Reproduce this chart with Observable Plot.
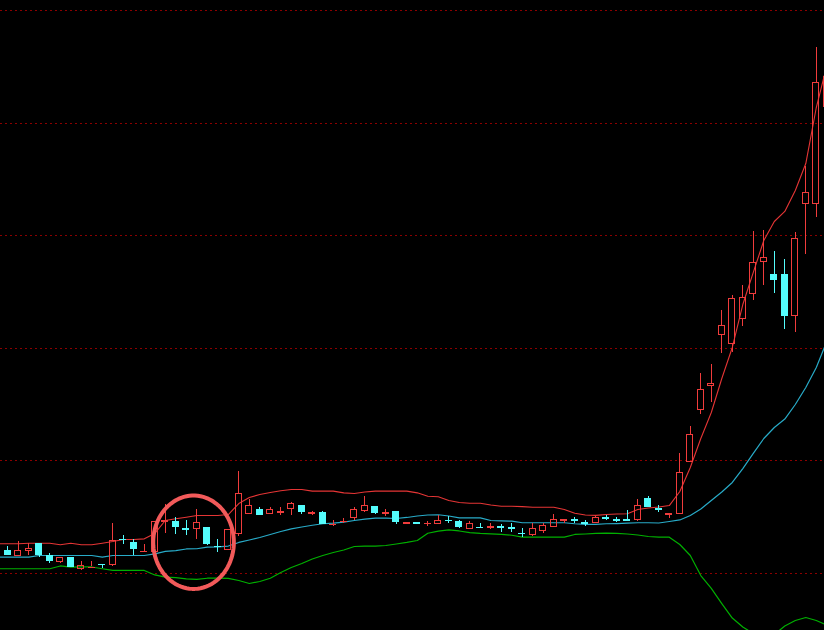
<!DOCTYPE html>
<html><head><meta charset="utf-8">
<script src="https://cdn.jsdelivr.net/npm/d3@7"></script>
<script src="https://cdn.jsdelivr.net/npm/@observablehq/plot@0.6"></script>
<style>html,body{margin:0;padding:0;background:#000;overflow:hidden}#chart svg{display:block}</style>
</head><body><div id="chart"></div>
<script>
// Daily candles (index 0 = first full candle on the left)
const candleOpen  = [4.204,4.154,4.204,4.260,4.154,4.098,4.136,4.036,4.051,4.080,4.077,4.302,4.269,4.193,4.187,4.462,4.456,4.397,4.397,4.403,4.240,4.211,4.347,4.531,4.566,4.531,4.544,4.572,4.604,4.535,4.540,4.434,4.460,4.495,4.554,4.589,4.538,4.545,4.449,4.452,4.441,4.442,4.471,4.456,4.397,4.412,4.410,4.413,4.404,4.358,4.344,4.382,4.412,4.475,4.478,4.449,4.447,4.497,4.478,4.478,4.477,4.658,4.577,4.528,4.531,4.989,5.449,5.665,6.116,6.036,6.264,6.480,6.769,6.656,6.656,6.287,7.280,7.280,8.145];
const candleHigh  = [4.243,4.284,4.264,4.260,4.175,4.145,4.136,4.109,4.109,4.080,4.447,4.340,4.302,4.258,4.460,4.613,4.495,4.471,4.566,4.403,4.300,4.388,4.909,4.655,4.589,4.589,4.589,4.634,4.604,4.554,4.554,4.471,4.492,4.589,4.684,4.589,4.566,4.554,4.451,4.452,4.462,4.516,4.507,4.471,4.462,4.447,4.442,4.436,4.442,4.400,4.442,4.442,4.522,4.478,4.500,4.471,4.507,4.516,4.500,4.560,4.655,4.684,4.604,4.531,5.069,5.307,5.775,5.858,6.338,6.471,6.560,7.044,7.049,6.860,6.789,7.031,7.618,8.673,8.560];
const candleLow   = [4.160,4.151,4.160,4.145,4.086,4.086,4.056,4.031,4.049,4.042,4.065,4.258,4.160,4.191,4.178,4.353,4.347,4.338,4.300,4.249,4.189,4.209,4.329,4.529,4.516,4.529,4.516,4.516,4.524,4.516,4.440,4.420,4.442,4.471,4.545,4.522,4.507,4.436,4.433,4.433,4.420,4.440,4.442,4.397,4.396,4.409,4.388,4.367,4.367,4.323,4.329,4.358,4.410,4.447,4.447,4.420,4.444,4.471,4.456,4.475,4.465,4.587,4.545,4.489,4.529,4.987,5.413,5.523,5.958,5.967,6.196,6.427,6.556,6.489,6.167,6.140,6.836,7.167,8.116];
const candleClose = [4.166,4.204,4.216,4.166,4.113,4.136,4.062,4.071,4.060,4.076,4.287,4.298,4.220,4.198,4.456,4.471,4.412,4.393,4.447,4.264,4.236,4.388,4.708,4.604,4.520,4.560,4.548,4.620,4.545,4.538,4.442,4.437,4.463,4.560,4.604,4.540,4.541,4.456,4.452,4.449,4.444,4.465,4.468,4.412,4.442,4.409,4.413,4.410,4.401,4.355,4.397,4.418,4.477,4.478,4.475,4.446,4.492,4.494,4.475,4.475,4.596,4.589,4.574,4.531,4.892,5.227,5.627,5.686,6.198,6.442,6.451,6.762,6.803,6.611,6.287,6.975,7.384,8.362,8.412];

// Bollinger-style bands, one value per candle, starting one candle left of candle 0
const bandStart = -1;
const bandUpper = [4.264,4.264,4.264,4.269,4.269,4.269,4.255,4.269,4.255,4.255,4.269,4.284,4.302,4.302,4.308,4.356,4.471,4.486,4.500,4.516,4.516,4.516,4.524,4.622,4.676,4.702,4.720,4.735,4.747,4.747,4.732,4.732,4.732,4.717,4.711,4.724,4.732,4.732,4.732,4.732,4.717,4.687,4.682,4.649,4.631,4.625,4.625,4.609,4.598,4.598,4.594,4.589,4.589,4.589,4.569,4.535,4.520,4.517,4.524,4.529,4.531,4.569,4.582,4.591,4.604,4.729,4.942,5.200,5.431,5.733,6.009,6.391,6.676,6.960,7.129,7.218,7.404,7.644,8.142,8.516];
const bandMid   = [4.145,4.145,4.145,4.145,4.160,4.160,4.160,4.160,4.160,4.160,4.145,4.160,4.160,4.160,4.160,4.175,4.196,4.204,4.218,4.220,4.234,4.236,4.244,4.276,4.298,4.320,4.347,4.373,4.396,4.413,4.429,4.442,4.447,4.456,4.471,4.484,4.492,4.492,4.489,4.498,4.511,4.520,4.522,4.511,4.495,4.495,4.495,4.471,4.468,4.465,4.451,4.451,4.451,4.451,4.451,4.442,4.436,4.436,4.442,4.444,4.447,4.451,4.451,4.449,4.462,4.476,4.516,4.573,4.649,4.724,4.809,4.933,5.067,5.200,5.298,5.373,5.502,5.653,5.831,6.062];
const bandLower = [4.042,4.042,4.042,4.042,4.042,4.042,4.067,4.056,4.058,4.058,4.042,4.027,4.027,4.027,4.027,3.987,3.967,3.964,3.953,3.947,3.958,3.958,3.956,3.938,3.911,3.929,3.958,4.009,4.053,4.089,4.129,4.160,4.187,4.209,4.240,4.243,4.244,4.249,4.262,4.276,4.293,4.358,4.376,4.387,4.378,4.364,4.356,4.353,4.347,4.340,4.324,4.323,4.323,4.323,4.323,4.347,4.351,4.356,4.358,4.356,4.351,4.342,4.329,4.324,4.323,4.258,4.160,3.982,3.867,3.733,3.604,3.524,3.467,3.440,3.458,3.533,3.582,3.609,3.582,3.542];

// horizontal price grid levels
const gridPrices = [4, 5, 6, 7, 8, 9];
// hand-drawn highlight around candles 14-21 (center + radii in data units)
const markCenterIndex = 17.69, markCenterPrice = 4.278, markRadiusIndex = 3.84, markRadiusPrice = 0.415;

const RED = "#f03c3c", CYAN = "#54fcfc";
const candles = candleOpen.map((o, i) => ({i, open: o, high: candleHigh[i], low: candleLow[i], close: candleClose[i]}));
const bands = bandUpper.map((u, k) => ({i: k + bandStart, upper: u, mid: bandMid[k], lower: bandLower[k]}));
const up = d => d.close >= d.open;
const thin = d => Math.abs(d.close - d.open) < 0.012;
const col = d => up(d) ? RED : CYAN;
const ellipse = d3.range(0, 361, 4).map(a => ({
  i: markCenterIndex + markRadiusIndex * Math.cos(a * Math.PI / 180),
  price: markCenterPrice + markRadiusPrice * Math.sin(a * Math.PI / 180)
}));
const hw = 0.3;

const chart = Plot.plot({
  width: 824, height: 630, margin: 0,
  x: {type: "linear", domain: [-0.695, 77.781], axis: null},
  y: {type: "linear", domain: [3.4933, 9.0933], axis: null},
  color: {type: "identity"},
  style: {background: "#000", overflow: "hidden"},
  marks: [
    Plot.ruleY(gridPrices, {stroke: "#8c0000", strokeDasharray: "2,3", shapeRendering: "crispEdges"}),
    Plot.line(bands, {x: "i", y: "lower", stroke: "#00b000", strokeWidth: 1.2}),
    Plot.line(bands, {x: "i", y: "mid", stroke: "#28abc8", strokeWidth: 1.2}),
    Plot.line(bands, {x: "i", y: "upper", stroke: "#e53535", strokeWidth: 1.1}),
    Plot.ruleX(candles, {x: "i", y1: d => Math.max(d.open, d.close), y2: "high", stroke: col, shapeRendering: "crispEdges"}),
    Plot.ruleX(candles, {x: "i", y1: "low", y2: d => Math.min(d.open, d.close), stroke: col, shapeRendering: "crispEdges"}),
    Plot.rect(candles.filter(d => !thin(d)), {
      x1: d => d.i - hw, x2: d => d.i + hw, y1: "open", y2: "close",
      fill: d => up(d) ? "none" : CYAN, stroke: col, strokeWidth: 1, shapeRendering: "crispEdges"
    }),
    Plot.ruleY(candles.filter(thin), {
      y: d => (d.open + d.close) / 2, x1: d => d.i - hw - 0.05, x2: d => d.i + hw + 0.05,
      stroke: col, strokeWidth: 1.5, shapeRendering: "crispEdges"
    }),
    Plot.line(ellipse, {x: "i", y: "price", stroke: "#f25a5a", strokeWidth: 4})
  ]
});
document.getElementById("chart").append(chart);
</script>
</body></html>
